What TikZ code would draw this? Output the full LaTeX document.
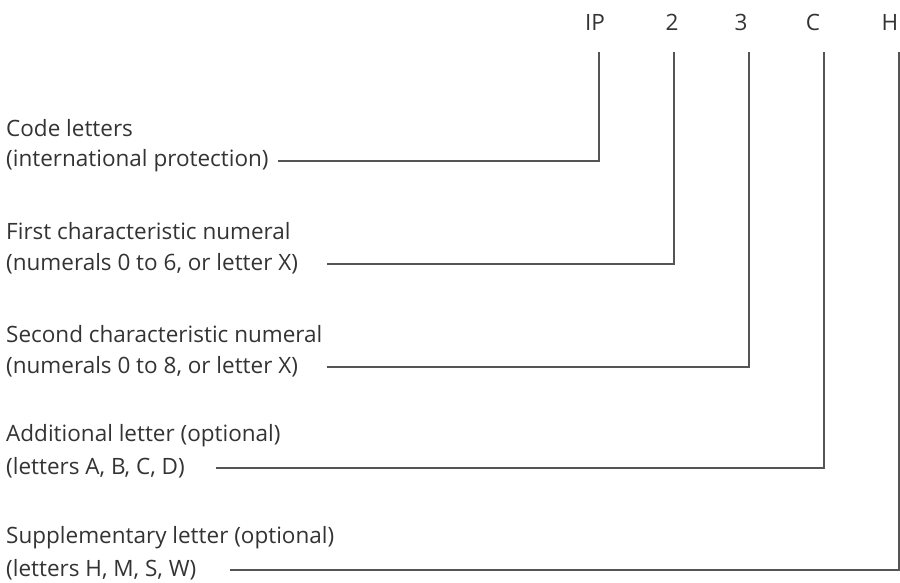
\documentclass[tikz,border=0pt]{standalone}
\usepackage{fontspec}
\setmainfont{Open Sans}
\definecolor{txtgray}{HTML}{333333}
\definecolor{linegray}{HTML}{555555}
\tikzset{
  code/.style={font=\fontsize{22.5}{26}\selectfont, text=txtgray, anchor=base, inner sep=0pt, outer ysep=22pt},
  desc/.style={font=\fontsize{22.5}{26}\selectfont, text=txtgray, anchor=west, inner sep=0pt},
  leader/.style={draw=linegray, line width=1.2pt},
}
\begin{document}
\begin{tikzpicture}[x=1pt, y=-1pt]
    \useasboundingbox (0,0) rectangle (900,582);

    % Code along the top
    \node[code] (ip) at (595,30) {IP};
    \node[code] (n1) at (672,30) {2};
    \node[code] (n2) at (741,30) {3};
    \node[code] (al) at (813,30) {C};
    \node[code] (sl) at (890,30) {H};

    % Descriptions
    \node[desc] (t1) at (6,128) {Code letters};
    \node[desc] (d1) at (6,161) {(international protection)};
    \node[desc] (t2) at (6,231) {First characteristic numeral};
    \node[desc] (d2) at (6,264) {(numerals 0 to 6, or letter X)};
    \node[desc] (t3) at (6,334) {Second characteristic numeral};
    \node[desc] (d3) at (6,367) {(numerals 0 to 8, or letter X)};
    \node[desc] (t4) at (6,436) {Additional letter (optional)};
    \node[desc] (d4) at (6,468) {(letters A, B, C, D)};
    \node[desc] (t5) at (6,538) {Supplementary letter (optional)};
    \node[desc] (d5) at (6,570) {(letters H, M, S, W)};

    % Leader lines
    \draw[leader] ([xshift=9pt]d1.east) -| ([xshift=4pt]ip.south);
    \draw[leader] ([xshift=29pt]d2.east) -| ([xshift=2pt]n1.south);
    \draw[leader] ([xshift=29pt]d3.east) -| ([xshift=8pt]n2.south);
    \draw[leader] ([xshift=31pt]d4.east) -| ([xshift=11pt]al.south);
    \draw[leader] ([xshift=34pt]d5.east) -| ([xshift=9pt]sl.south);

\end{tikzpicture}
\end{document}
